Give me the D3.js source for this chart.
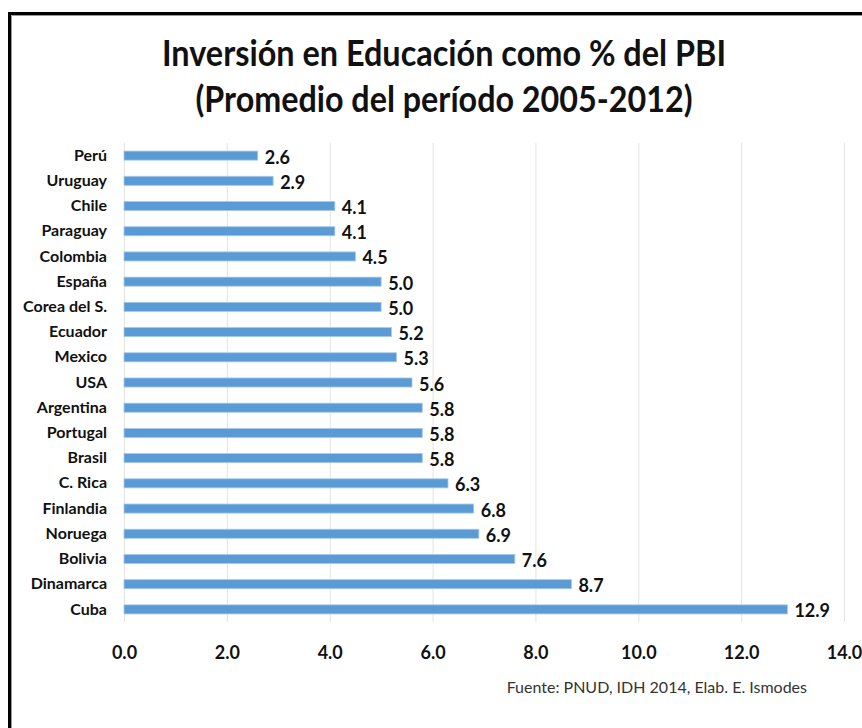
<!DOCTYPE html>
<html>
<head>
<meta charset="utf-8">
<script src="https://cdn.jsdelivr.net/npm/d3@7"></script>
<style>
  body { margin: 0; background: #fff; }
  svg text { font-family: Lato, "Open Sans", sans-serif; fill: #111; }
</style>
</head>
<body>
<div class="svg-container"></div>
<script>
// data
var countries = ["Perú", "Uruguay", "Chile", "Paraguay", "Colombia", "España", "Corea del S.",
  "Ecuador", "Mexico", "USA", "Argentina", "Portugal", "Brasil", "C. Rica", "Finlandia",
  "Noruega", "Bolivia", "Dinamarca", "Cuba"];
var values = [2.6, 2.9, 4.1, 4.1, 4.5, 5.0, 5.0, 5.2, 5.3, 5.6, 5.8, 5.8, 5.8, 6.3, 6.8, 6.9, 7.6, 8.7, 12.9];
var ticks = [0, 2, 4, 6, 8, 10, 12, 14];
var titleLines = ["Inversión en Educación como % del PBI", "(Promedio del período 2005-2012)"];
var source = "Fuente: PNUD, IDH 2014, Elab. E. Ismodes";

var W = 862, H = 728;
var plotL = 124, plotR = 844, plotT = 143, plotB = 622;

var svg = d3.select(".svg-container").append("svg")
  .attr("width", W)
  .attr("height", H);

// frame (top + left only, the rest is cropped)
svg.append("path")
  .attr("d", "M9.5," + H + "V13.5H" + W)
  .attr("fill", "none").attr("stroke", "#000").attr("stroke-width", 3);
svg.append("path")
  .attr("d", "M11.5," + H + "V15.5H" + W)
  .attr("fill", "none").attr("stroke", "#999").attr("stroke-width", 1);

// title
svg.selectAll(".title")
  .data(titleLines)
  .enter().append("text")
  .attr("class", "title")
  .attr("x", 444)
  .attr("y", function(d, i) { return 66 + i * 46; })
  .attr("text-anchor", "middle")
  .attr("textLength", function(d, i) { return i == 0 ? 564 : 497; })
  .attr("lengthAdjust", "spacingAndGlyphs")
  .style("font-size", "36px")
  .style("font-weight", "bold")
  .text(function(d) { return d; });

// scales
var x = d3.scaleLinear().domain([0, 14]).range([plotL, plotR]);
var y = d3.scaleBand().domain(countries).range([plotT, plotB]).paddingInner(0.64).paddingOuter(0.32);

// grid
svg.append("g")
  .selectAll("line")
  .data(ticks)
  .enter().append("line")
  .attr("x1", function(d) { return x(d) + 0.5; })
  .attr("x2", function(d) { return x(d) + 0.5; })
  .attr("y1", plotT)
  .attr("y2", plotB)
  .attr("stroke", "#e3e3e3")
  .attr("stroke-width", 1);

// x axis
var xAxis = svg.append("g")
  .attr("transform", "translate(0," + plotB + ")")
  .call(d3.axisBottom(x).tickValues(ticks).tickFormat(d3.format(".1f")).tickSize(0).tickPadding(24));
xAxis.select(".domain").remove();
xAxis.selectAll("text")
  .style("font-size", "18px")
  .style("font-weight", "bold")
  .style("font-family", "Lato, sans-serif")
  .attr("fill", "#111");

// y axis
var yAxis = svg.append("g")
  .attr("transform", "translate(" + plotL + ",0)")
  .call(d3.axisLeft(y).tickSize(0).tickPadding(17));
yAxis.select(".domain").remove();
yAxis.selectAll("text")
  .style("font-size", "16px")
  .style("font-weight", "bold")
  .style("font-family", "Lato, sans-serif")
  .attr("fill", "#111");

// bars
svg.selectAll(".bar")
  .data(values)
  .enter().append("rect")
  .attr("class", "bar")
  .attr("x", x(0))
  .attr("y", function(d, i) { return y(countries[i]); })
  .attr("width", function(d) { return x(d) - x(0); })
  .attr("height", y.bandwidth())
  .attr("fill", "#5b9bd5")
  .attr("stroke", "#a9c9ea")
  .attr("stroke-width", 0.8);

// value labels
svg.selectAll(".val")
  .data(values)
  .enter().append("text")
  .attr("class", "val")
  .attr("x", function(d) { return x(d) + 7; })
  .attr("y", function(d, i) { return y(countries[i]) + y.bandwidth() / 2 + 8; })
  .style("font-size", "18px")
  .style("font-weight", "bold")
  .text(function(d) { return d3.format(".1f")(d); });

// source
svg.append("text")
  .attr("x", 807)
  .attr("y", 693)
  .attr("text-anchor", "end")
  .style("font-size", "16px")
  .style("fill", "#333")
  .text(source);
</script>
</body>
</html>
